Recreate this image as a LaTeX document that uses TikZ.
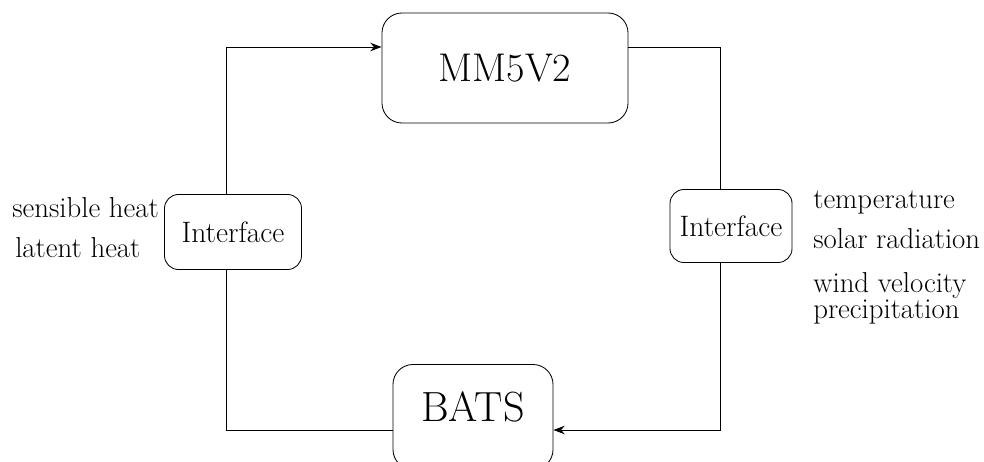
\documentclass[tikz,border=0pt]{standalone}
\usepackage{tikz}
\usetikzlibrary{positioning,arrows.meta}

\tikzset{
    modelbox/.style={rectangle, draw, rounded corners=0.5cm, fill=white,
        line width=0.6pt, font=\fontsize{28.5}{32}\selectfont},
    ifacebox/.style={rectangle, draw, rounded corners=0.35cm, fill=white,
        line width=0.6pt, font=\fontsize{21}{24}\selectfont},
    varlabel/.style={inner sep=0pt, anchor=base west, font=\fontsize{20.5}{24}\selectfont},
    flow/.style={line width=0.6pt}
}

\begin{document}
\begin{tikzpicture}[x=0.025cm, y=-0.025cm]
    \useasboundingbox (0,0) rectangle (984,461);
    \begin{scope}
        % Model boxes and interfaces
        \node[modelbox, minimum width=6.15cm, minimum height=2.75cm] (mm5) at (505,68) {MM5V2};
        \node[modelbox, minimum width=4cm, minimum height=2.625cm, text depth=0.5cm,
            font=\fontsize{30}{33}\selectfont] (bats) at (473,417) {BATS};
        \node[ifacebox, minimum width=3.425cm, minimum height=1.875cm] (linf) at (233,232) {Interface};
        \node[ifacebox, minimum width=3.05cm, minimum height=1.825cm] (rinf) at (731,226) {Interface};

        % Corners of the loop
        \coordinate (lt) at (226,47);
        \coordinate (lb) at (226,430);
        \coordinate (rt) at (720,47);
        \coordinate (rb) at (720,430);

        % Arrows
        \draw[flow] (bats.west |- lb) -- (lb) -- (linf.south -| lb);
        \draw[flow, -{Stealth[length=8pt, width=6pt]}] (linf.north -| lt) -- (lt) -- (mm5.west |- lt);
        \draw[flow] (mm5.east |- rt) -- (rt) -- (rinf.north -| rt);
        \draw[flow, -{Stealth[length=8pt, width=6pt]}] (rinf.south -| rb) -- (rb) -- (bats.east |- rb);

        % Exchanged variables
        \node[varlabel] (sens) at (12,217) {sensible heat};
        \node[varlabel] (lat) at (15,257) {latent heat};
        \node[varlabel] (temp) at (813,208) {temperature};
        \node[varlabel] (srad) at (813,248) {solar radiation};
        \node[varlabel] (wvel) at (813,292) {wind velocity};
        \node[varlabel] (prec) at (813,318) {precipitation};
    \end{scope}
\end{tikzpicture}
\end{document}
